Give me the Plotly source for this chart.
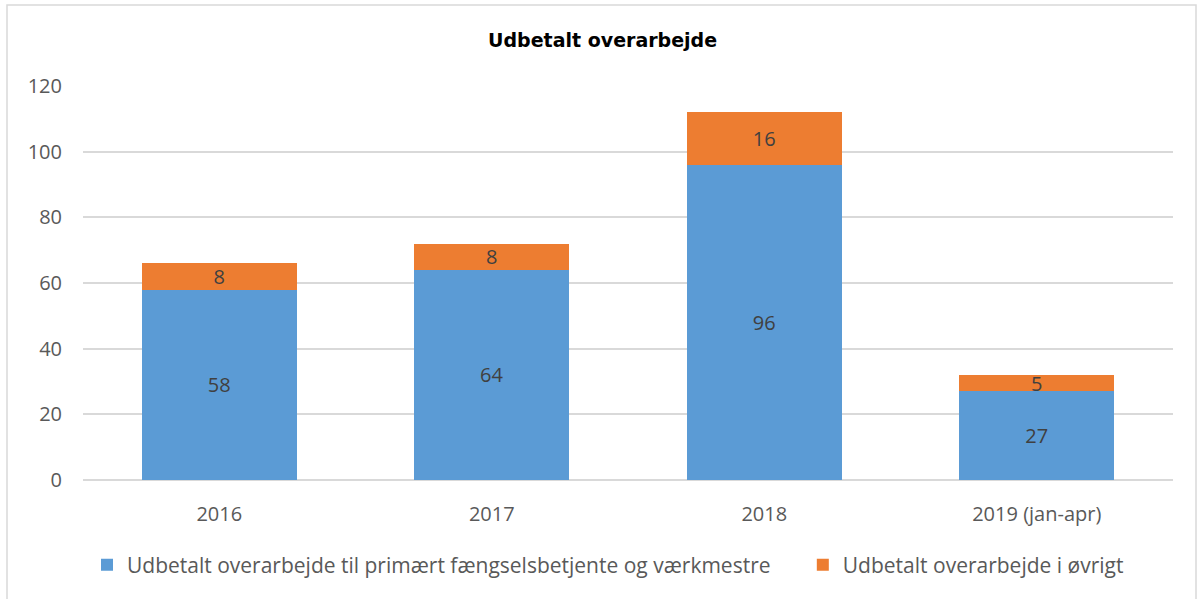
import plotly.graph_objects as go

categories = ["2016", "2017", "2018", "2019 (jan-apr)"]
primary = [58, 64, 96, 27]
other = [8, 8, 16, 5]
series_names = ["Udbetalt overarbejde til primært fængselsbetjente og værkmestre",
                "Udbetalt overarbejde i øvrigt"]
y_ticks = [0, 20, 40, 60, 80, 100, 120]
title = "Udbetalt overarbejde"

FONT = "Open Sans, Noto Sans, sans-serif"
TXT = "#595959"

fig = go.Figure()
fig.add_trace(go.Bar(x=categories, y=primary, name=series_names[0] + "\u00a0" * 5,
                     marker=dict(color="#5B9BD5", line=dict(width=0)),
                     text=primary, textposition="inside", insidetextanchor="middle",
                     textangle=0, constraintext="none",
                     textfont=dict(color="#404040", size=20, family=FONT)))
fig.add_trace(go.Bar(x=categories, y=other, name=series_names[1],
                     marker=dict(color="#ED7D31", line=dict(width=0)),
                     text=other, textposition="inside", insidetextanchor="middle",
                     textangle=0, constraintext="none",
                     textfont=dict(color="#404040", size=20, family=FONT)))

W, H = 1198, 599
L, R, T, B = 83, 25, 86, 119
pw, ph = W - L - R, H - T - B

def px_x(p):
    return (p - L) / pw

def px_y(p):
    return (H - B - p) / ph

fig.add_shape(type="rect", xref="paper", yref="paper",
              x0=px_x(7), x1=px_x(1196), y0=px_y(620), y1=px_y(5),
              line=dict(color="#D9D9D9", width=1.5), fillcolor="rgba(0,0,0,0)", layer="below")

fig.update_layout(
    width=W, height=H,
    margin=dict(l=L, r=R, t=T, b=B),
    barmode="stack", bargap=0.43,
    paper_bgcolor="white", plot_bgcolor="white",
    font=dict(family=FONT, color=TXT, size=20),
    title=dict(text="<b>" + title + "</b>", x=0.503, xref="container", xanchor="center",
               y=1 - 40 / H, yanchor="middle",
               font=dict(size=19, color="#000000", family="DejaVu Sans, Verdana, sans-serif")),
    legend=dict(orientation="h", x=px_x(608), xanchor="center",
                y=px_y(565), yanchor="middle", font=dict(size=21, color=TXT),
                itemwidth=30, traceorder="normal"),
    showlegend=True,
)
fig.update_xaxes(showgrid=False, showline=False, ticks="", ticklabelstandoff=20,
                 tickfont=dict(size=20, color=TXT))
fig.update_yaxes(range=[0, 120], tickvals=y_ticks, showgrid=True, gridcolor="#D9D9D9",
                 gridwidth=1.5, zeroline=True, zerolinecolor="#D9D9D9", zerolinewidth=1.5,
                 showline=False, ticks="", ticklabelstandoff=20,
                 tickfont=dict(size=20, color=TXT))

fig.write_html("out.html", config={"displayModeBar": False},
               post_script="document.body.style.margin='0';")
